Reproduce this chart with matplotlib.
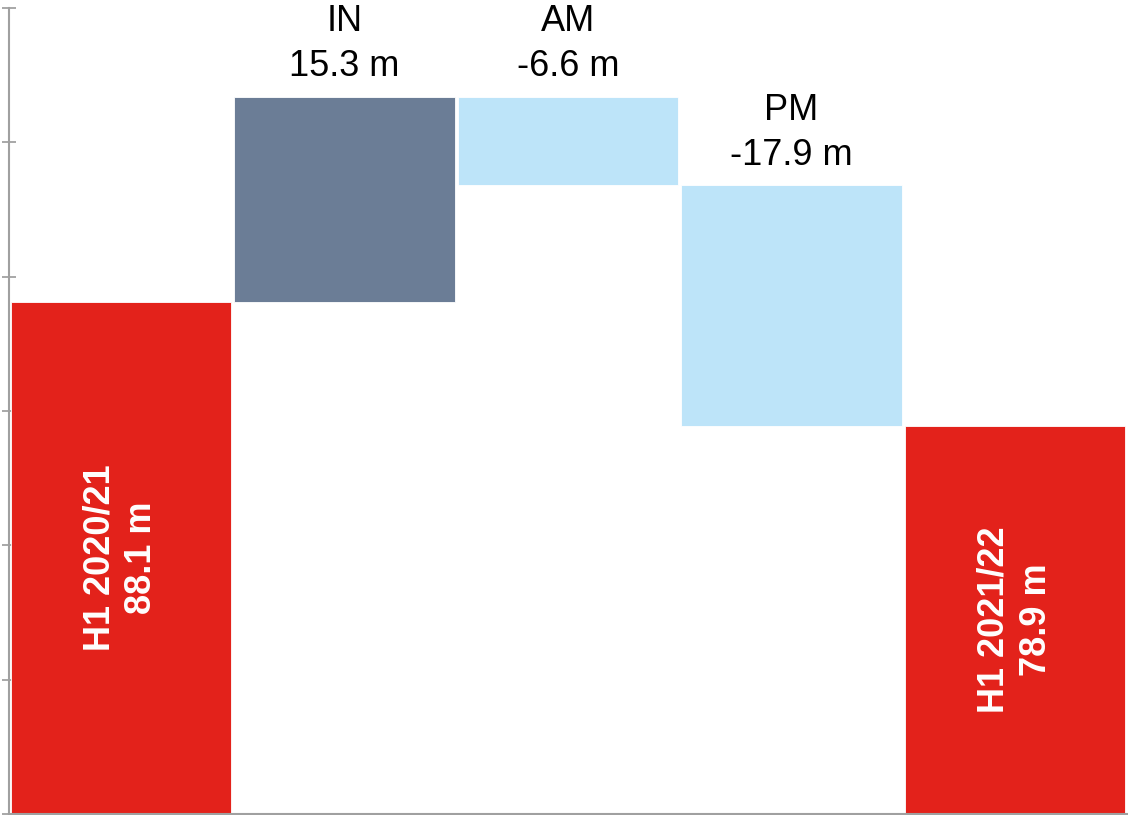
import matplotlib
matplotlib.use("Agg")
import matplotlib.pyplot as plt

categories = ["H1 2020/21", "IN", "AM", "PM", "H1 2021/22"]
values = [88.1, 15.3, -6.6, -17.9, 78.9]
kinds = ["total", "delta", "delta", "delta", "total"]

RED = "#E3221B"
SLATE = "#6B7D96"
LIGHT = "#BDE4F9"

plt.rcParams['font.family'] = ['Liberation Sans', 'DejaVu Sans']

fig = plt.figure(figsize=(11.28, 8.15), dpi=100)
ax = fig.add_axes([9/1128, 1 - 814/815, (1127 - 9)/1128, (814 - 8)/815])

running = 0.0
for i, (cat, val, kind) in enumerate(zip(categories, values, kinds)):
    if kind == "total":
        bottom, height = 0, val
        running = val
        color = RED
    else:
        if val >= 0:
            bottom, height = running, val
            color = SLATE
        else:
            bottom, height = running + val, -val
            color = LIGHT
        running += val
    ax.bar(i, height, bottom=bottom, width=0.985, color=color,
           edgecolor="white", linewidth=0.6, zorder=2)
    label = f"{cat}\n{val:.1f} m"
    if kind == "total":
        ax.text(i, (50 + val) / 2, label, rotation=90, ha="center", va="center",
                color="white", fontsize=26, fontweight="bold", linespacing=1.26,
                multialignment="center")
    else:
        top = bottom + height
        ax.annotate(label, xy=(i, top), xytext=(0, 9), textcoords="offset points",
                    ha="center", va="bottom", fontsize=26, color="black",
                    linespacing=1.36, multialignment="center")

ax.set_xlim(-0.5, 4.5)
ax.set_ylim(50, 110)
ax.set_yticks(range(50, 111, 10))
ax.set_yticklabels([])
ax.set_xticks([])
ax.tick_params(axis="y", direction="inout", length=10, width=1.2, color="#999999")
for s in ["top", "right"]:
    ax.spines[s].set_visible(False)
ax.spines["left"].set_color("#A0A0A0")
ax.spines["left"].set_linewidth(1.5)
ax.spines["bottom"].set_color("#A0A0A0")
ax.spines["bottom"].set_linewidth(1.5)
ax.spines["bottom"].set_zorder(3)

fig.savefig("out.png", dpi=100)
